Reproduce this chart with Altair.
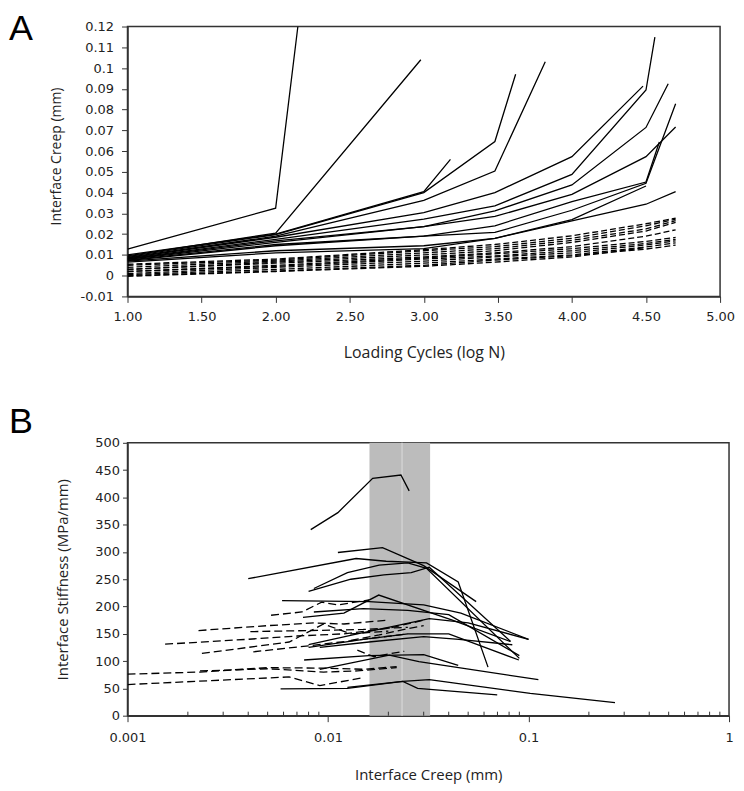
import altair as alt
import pandas as pd

# ---------------- Panel A: creep vs log cycles ----------------
A_X_TICKS = [1.0, 1.5, 2.0, 2.5, 3.0, 3.5, 4.0, 4.5, 5.0]
A_Y_TICKS = [-0.01, 0.0, 0.01, 0.02, 0.03, 0.04, 0.05, 0.06, 0.07, 0.08, 0.09, 0.10, 0.11, 0.12]

# solid series (x = log N, y = creep mm)
A_S1 = [(1, 0.0128), (2, 0.0325), (2.15, 0.12)]
A_S2 = [(1, 0.0095), (2, 0.0205), (2.98, 0.104)]
A_S3 = [(1, 0.0100), (2, 0.0200), (3, 0.0405), (3.18, 0.056)]
A_S4 = [(1, 0.0092), (2, 0.0198), (3, 0.0400), (3.48, 0.0646), (3.62, 0.097)]
A_S5 = [(1, 0.0088), (2, 0.0190), (3, 0.0363), (3.48, 0.0504), (3.82, 0.103)]
A_S6 = [(1, 0.0085), (2, 0.0185), (3, 0.0304), (3.48, 0.0400), (4, 0.0573), (4.48, 0.0913)]
A_S7 = [(1, 0.0082), (2, 0.0175), (3, 0.0272), (3.48, 0.0336), (4, 0.0488), (4.5, 0.0894), (4.56, 0.1149)]
A_S8 = [(1, 0.0080), (2, 0.0168), (3, 0.0236), (3.48, 0.0312), (4, 0.0437), (4.5, 0.0714), (4.65, 0.0924)]
A_S9 = [(1, 0.0078), (2, 0.0160), (3, 0.0236), (3.48, 0.0285), (4, 0.0392), (4.5, 0.0573), (4.7, 0.0716)]
A_S10 = [(1, 0.0075), (2, 0.0150), (3, 0.0190), (3.48, 0.0240), (4, 0.0357), (4.5, 0.0451), (4.59, 0.0644)]
A_S11 = [(1, 0.0072), (2, 0.0144), (3, 0.0190), (3.48, 0.0208), (4, 0.0315), (4.5, 0.0445), (4.7, 0.0828)]
A_S12 = [(1, 0.0070), (2, 0.0120), (3, 0.0144), (3.48, 0.0180), (4, 0.0264), (4.5, 0.0344), (4.7, 0.0405)]
A_S13 = [(1, 0.0065), (2, 0.0110), (3, 0.0130), (3.48, 0.0180), (4, 0.0270), (4.5, 0.0432)]

# dashed series
A_D1 = [(1, 0.0055), (2, 0.0080), (3, 0.0125), (3.48, 0.0150), (4, 0.0192), (4.5, 0.0250), (4.7, 0.0277)]
A_D2 = [(1, 0.0050), (2, 0.0075), (3, 0.0120), (3.48, 0.0140), (4, 0.0180), (4.5, 0.0240), (4.7, 0.0272)]
A_D3 = [(1, 0.0040), (2, 0.0070), (3, 0.0110), (3.48, 0.0130), (4, 0.0170), (4.5, 0.0225), (4.7, 0.0265)]
A_D4 = [(1, 0.0030), (2, 0.0065), (3, 0.0100), (3.48, 0.0120), (4, 0.0160), (4.5, 0.0215), (4.7, 0.0257)]
A_D5 = [(1, 0.0030), (2, 0.0060), (3, 0.0090), (3.48, 0.0110), (4, 0.0140), (4.5, 0.0190), (4.7, 0.0221)]
A_D6 = [(1, 0.0020), (2, 0.0050), (3, 0.0085), (3.48, 0.0105), (4, 0.0130), (4.5, 0.0165), (4.7, 0.0184)]
A_D7 = [(1, 0.0020), (2, 0.0045), (3, 0.0080), (3.48, 0.0095), (4, 0.0120), (4.5, 0.0155), (4.7, 0.0175)]
A_D8 = [(1, 0.0010), (2, 0.0040), (3, 0.0070), (3.48, 0.0090), (4, 0.0110), (4.5, 0.0148), (4.7, 0.0168)]
A_D9 = [(1, 0.0005), (2, 0.0030), (3, 0.0060), (3.48, 0.0080), (4, 0.0100), (4.5, 0.0138), (4.7, 0.0158)]
A_D10 = [(1, 0.0000), (2, 0.0022), (3, 0.0050), (3.48, 0.0075), (4, 0.0096), (4.5, 0.0128), (4.7, 0.0147)]
A_D11 = [(1, -0.0003), (2, 0.0020), (3, 0.0045), (3.48, 0.0065), (4, 0.0090), (4.5, 0.0135)]

A_SOLID = [A_S1, A_S2, A_S3, A_S4, A_S5, A_S6, A_S7, A_S8, A_S9, A_S10, A_S11, A_S12, A_S13]
A_DASHED = [A_D1, A_D2, A_D3, A_D4, A_D5, A_D6, A_D7, A_D8, A_D9, A_D10, A_D11]

# ---------------- Panel B: stiffness vs creep ----------------
B_X_TICKS = [0.001, 0.01, 0.1, 1]
B_X_MINOR = [0.002, 0.003, 0.004, 0.005, 0.006, 0.007, 0.008, 0.009,
             0.02, 0.03, 0.04, 0.05, 0.06, 0.07, 0.08, 0.09,
             0.2, 0.3, 0.4, 0.5, 0.6, 0.7, 0.8, 0.9]
B_Y_TICKS = [0, 50, 100, 150, 200, 250, 300, 350, 400, 450, 500]
BAND_LO = 0.0161
BAND_HI = 0.0323
BAND_LINE = 0.0234

B_P1 = [(0.0082, 341), (0.0112, 372), (0.0167, 435), (0.0231, 441), (0.0254, 412)]
B_P2 = [(0.0040, 251), (0.0138, 288), (0.0195, 283), (0.0310, 280), (0.0446, 245), (0.0628, 89)]
B_P3 = [(0.0112, 299), (0.0187, 308), (0.0300, 275), (0.0548, 209)]
B_P4 = [(0.0085, 233), (0.0125, 262), (0.0180, 276), (0.0250, 280), (0.0310, 270), (0.0900, 105)]
B_P5 = [(0.0080, 228), (0.0130, 250), (0.0190, 258), (0.0260, 262), (0.0320, 272), (0.0814, 136)]
B_P6 = [(0.0059, 211), (0.0160, 209), (0.0300, 203), (0.0460, 188), (0.1000, 140)]
B_P7 = [(0.0075, 180), (0.0120, 188), (0.0179, 221), (0.0417, 175), (0.0810, 136)]
B_P8 = [(0.0085, 190), (0.0150, 196), (0.0250, 193), (0.0400, 185), (0.0900, 110)]
B_P9 = [(0.0080, 130), (0.0140, 150), (0.0220, 165), (0.0320, 178), (0.0500, 170), (0.1000, 140)]
B_P10 = [(0.0080, 125), (0.0150, 140), (0.0250, 150), (0.0400, 150), (0.0895, 102)]
B_P11 = [(0.0091, 125), (0.0160, 135), (0.0300, 145), (0.0450, 140), (0.0830, 130)]
B_P12 = [(0.0076, 102), (0.0160, 110), (0.0300, 112), (0.0446, 92)]
B_P13 = [(0.0058, 49), (0.0125, 50), (0.0236, 63), (0.0280, 50), (0.0698, 38)]
B_P14 = [(0.0125, 52), (0.0236, 63), (0.0320, 66), (0.1020, 41), (0.2700, 24)]
B_P15 = [(0.0091, 85), (0.0202, 111), (0.0284, 99), (0.1120, 66)]

B_Q1 = [(0.0010, 76), (0.0023, 80), (0.0050, 88), (0.0100, 87), (0.0150, 85), (0.0220, 90)]
B_Q2 = [(0.0010, 57), (0.0064, 71), (0.0091, 55), (0.0146, 69)]
B_Q3 = [(0.00154, 131), (0.0040, 140), (0.0070, 146), (0.0120, 150), (0.0200, 160), (0.0300, 175)]
B_Q4 = [(0.00226, 156), (0.0050, 165), (0.0085, 170), (0.0120, 168), (0.0200, 175)]
B_Q5 = [(0.00235, 114), (0.0064, 135), (0.0095, 168), (0.0130, 150), (0.0200, 155)]
B_Q6 = [(0.00424, 117), (0.0080, 128), (0.0150, 140), (0.0250, 150)]
B_Q7 = [(0.0041, 154), (0.0080, 156), (0.0150, 158), (0.0250, 162)]
B_Q8 = [(0.0052, 184), (0.0074, 190), (0.0093, 208), (0.0112, 203), (0.0160, 212)]
B_Q9 = [(0.0023, 82), (0.0050, 86), (0.0095, 80), (0.0140, 82), (0.0220, 88)]
B_Q10 = [(0.0140, 120), (0.0170, 108), (0.0200, 113), (0.0240, 118)]
B_Q11 = [(0.0130, 138), (0.0180, 148), (0.0240, 158), (0.0300, 165)]

B_SOLID = [B_P1, B_P2, B_P3, B_P4, B_P5, B_P6, B_P7, B_P8, B_P9, B_P10, B_P11, B_P12, B_P13, B_P14, B_P15]
B_DASHED = [B_Q1, B_Q2, B_Q3, B_Q4, B_Q5, B_Q6, B_Q7, B_Q8, B_Q9, B_Q10, B_Q11]


def to_frame(series_list, prefix):
    rows = []
    for k, s in enumerate(series_list):
        for i, (x, y) in enumerate(s):
            rows.append({"sid": f"{prefix}{k}", "i": i, "x": x, "y": y})
    return pd.DataFrame(rows)


LINE_W = 1.3
TXT = "#222222"
AX = "#333333"
PANEL_FONT = "Liberation Sans"
PANEL_FS = 36

# ---------- Panel A ----------
AW, AH = 595, 271
xa = alt.X("x:Q", scale=alt.Scale(domain=[1, 5], nice=False, zero=False),
           axis=alt.Axis(values=A_X_TICKS, format=".2f", title="Loading Cycles (log N)",
                         labelFlush=False, tickSize=6, labelPadding=8, titlePadding=21,
                         titleFontSize=16))
ya = alt.Y("y:Q", scale=alt.Scale(domain=[-0.01, 0.12], nice=False, zero=False),
           axis=alt.Axis(values=A_Y_TICKS,
                         labelExpr="replace(format(datum.value, '.2~f'), '\u2212', '-')",
                         title="Interface Creep (mm)", tickSize=6, labelPadding=8,
                         titlePadding=17, titleY=130, titleAlign="center", titleFontSize=14,
                         labelFlush=False))

a_solid = alt.Chart(to_frame(A_SOLID, "s")).mark_line(
    color="black", strokeWidth=LINE_W, clip=True).encode(x=xa, y=ya, detail="sid:N", order="i:Q")
a_dash = alt.Chart(to_frame(A_DASHED, "d")).mark_line(
    color="black", strokeWidth=LINE_W, strokeDash=[6, 3], clip=True).encode(
    x=xa, y=ya, detail="sid:N", order="i:Q")
a_lab = alt.Chart(pd.DataFrame({"t": ["A"]})).mark_text(
    align="left", baseline="alphabetic", fontSize=PANEL_FS, font=PANEL_FONT, color="black").encode(
    text="t:N", x=alt.value(-119), y=alt.value(13.6))

panel_a = alt.layer(a_solid, a_dash, a_lab).properties(width=AW, height=AH)

# ---------- Panel B ----------
BW, BH = 604, 274
xb = alt.X("x:Q", scale=alt.Scale(type="log", domain=[0.001, 1], nice=False),
           axis=alt.Axis(values=B_X_TICKS, format="~g", title="Interface Creep (mm)",
                         labelFlush=False, tickSize=6, labelPadding=10, titlePadding=23))
yb = alt.Y("y:Q", scale=alt.Scale(domain=[0, 500], nice=False),
           axis=alt.Axis(values=B_Y_TICKS, title="Interface Stiffness (MPa/mm)",
                         labelFlush=False, tickSize=5, labelPadding=3, titlePadding=24))

band = alt.Chart(pd.DataFrame({"x": [BAND_LO], "x2": [BAND_HI]})).mark_rect(
    color="#bcbcbc").encode(x=xb, x2="x2:Q", y=alt.value(0), y2=alt.value(BH))
vline = alt.Chart(pd.DataFrame({"x": [BAND_LINE]})).mark_rule(
    color="#d2d2d2", strokeWidth=1.5).encode(x=xb, y=alt.value(0), y2=alt.value(BH))
b_solid = alt.Chart(to_frame(B_SOLID, "p")).mark_line(
    color="black", strokeWidth=LINE_W, clip=True).encode(x=xb, y=yb, detail="sid:N", order="i:Q")
b_dash = alt.Chart(to_frame(B_DASHED, "q")).mark_line(
    color="black", strokeWidth=LINE_W, strokeDash=[8, 4], clip=True).encode(
    x=xb, y=yb, detail="sid:N", order="i:Q")
minor = alt.Chart(pd.DataFrame({"x": B_X_MINOR})).mark_rule(
    color=AX, strokeWidth=1).encode(x=xb, y=alt.value(BH), y2=alt.value(BH - 4))
b_lab = alt.Chart(pd.DataFrame({"t": ["B"]})).mark_text(
    align="left", baseline="alphabetic", fontSize=PANEL_FS, font=PANEL_FONT, color="black").encode(
    text="t:N", x=alt.value(-119), y=alt.value(-10))

panel_b = alt.layer(band, vline, b_solid, b_dash, minor, b_lab).properties(width=BW, height=BH)

chart = alt.vconcat(
    panel_a, panel_b, spacing=42, padding=0,
).configure_axis(
    labelFont="DejaVu Sans", labelFontSize=13, labelColor=TXT,
    titleFont="Open Sans", titleFontSize=15, titleFontWeight="normal", titleColor=TXT,
    domainColor=AX, domainWidth=1.5, tickColor=AX, tickWidth=1, grid=False,
).configure_view(stroke=AX, strokeWidth=1.5)

chart.save("out.html", embed_options={"renderer": "svg", "actions": False})
